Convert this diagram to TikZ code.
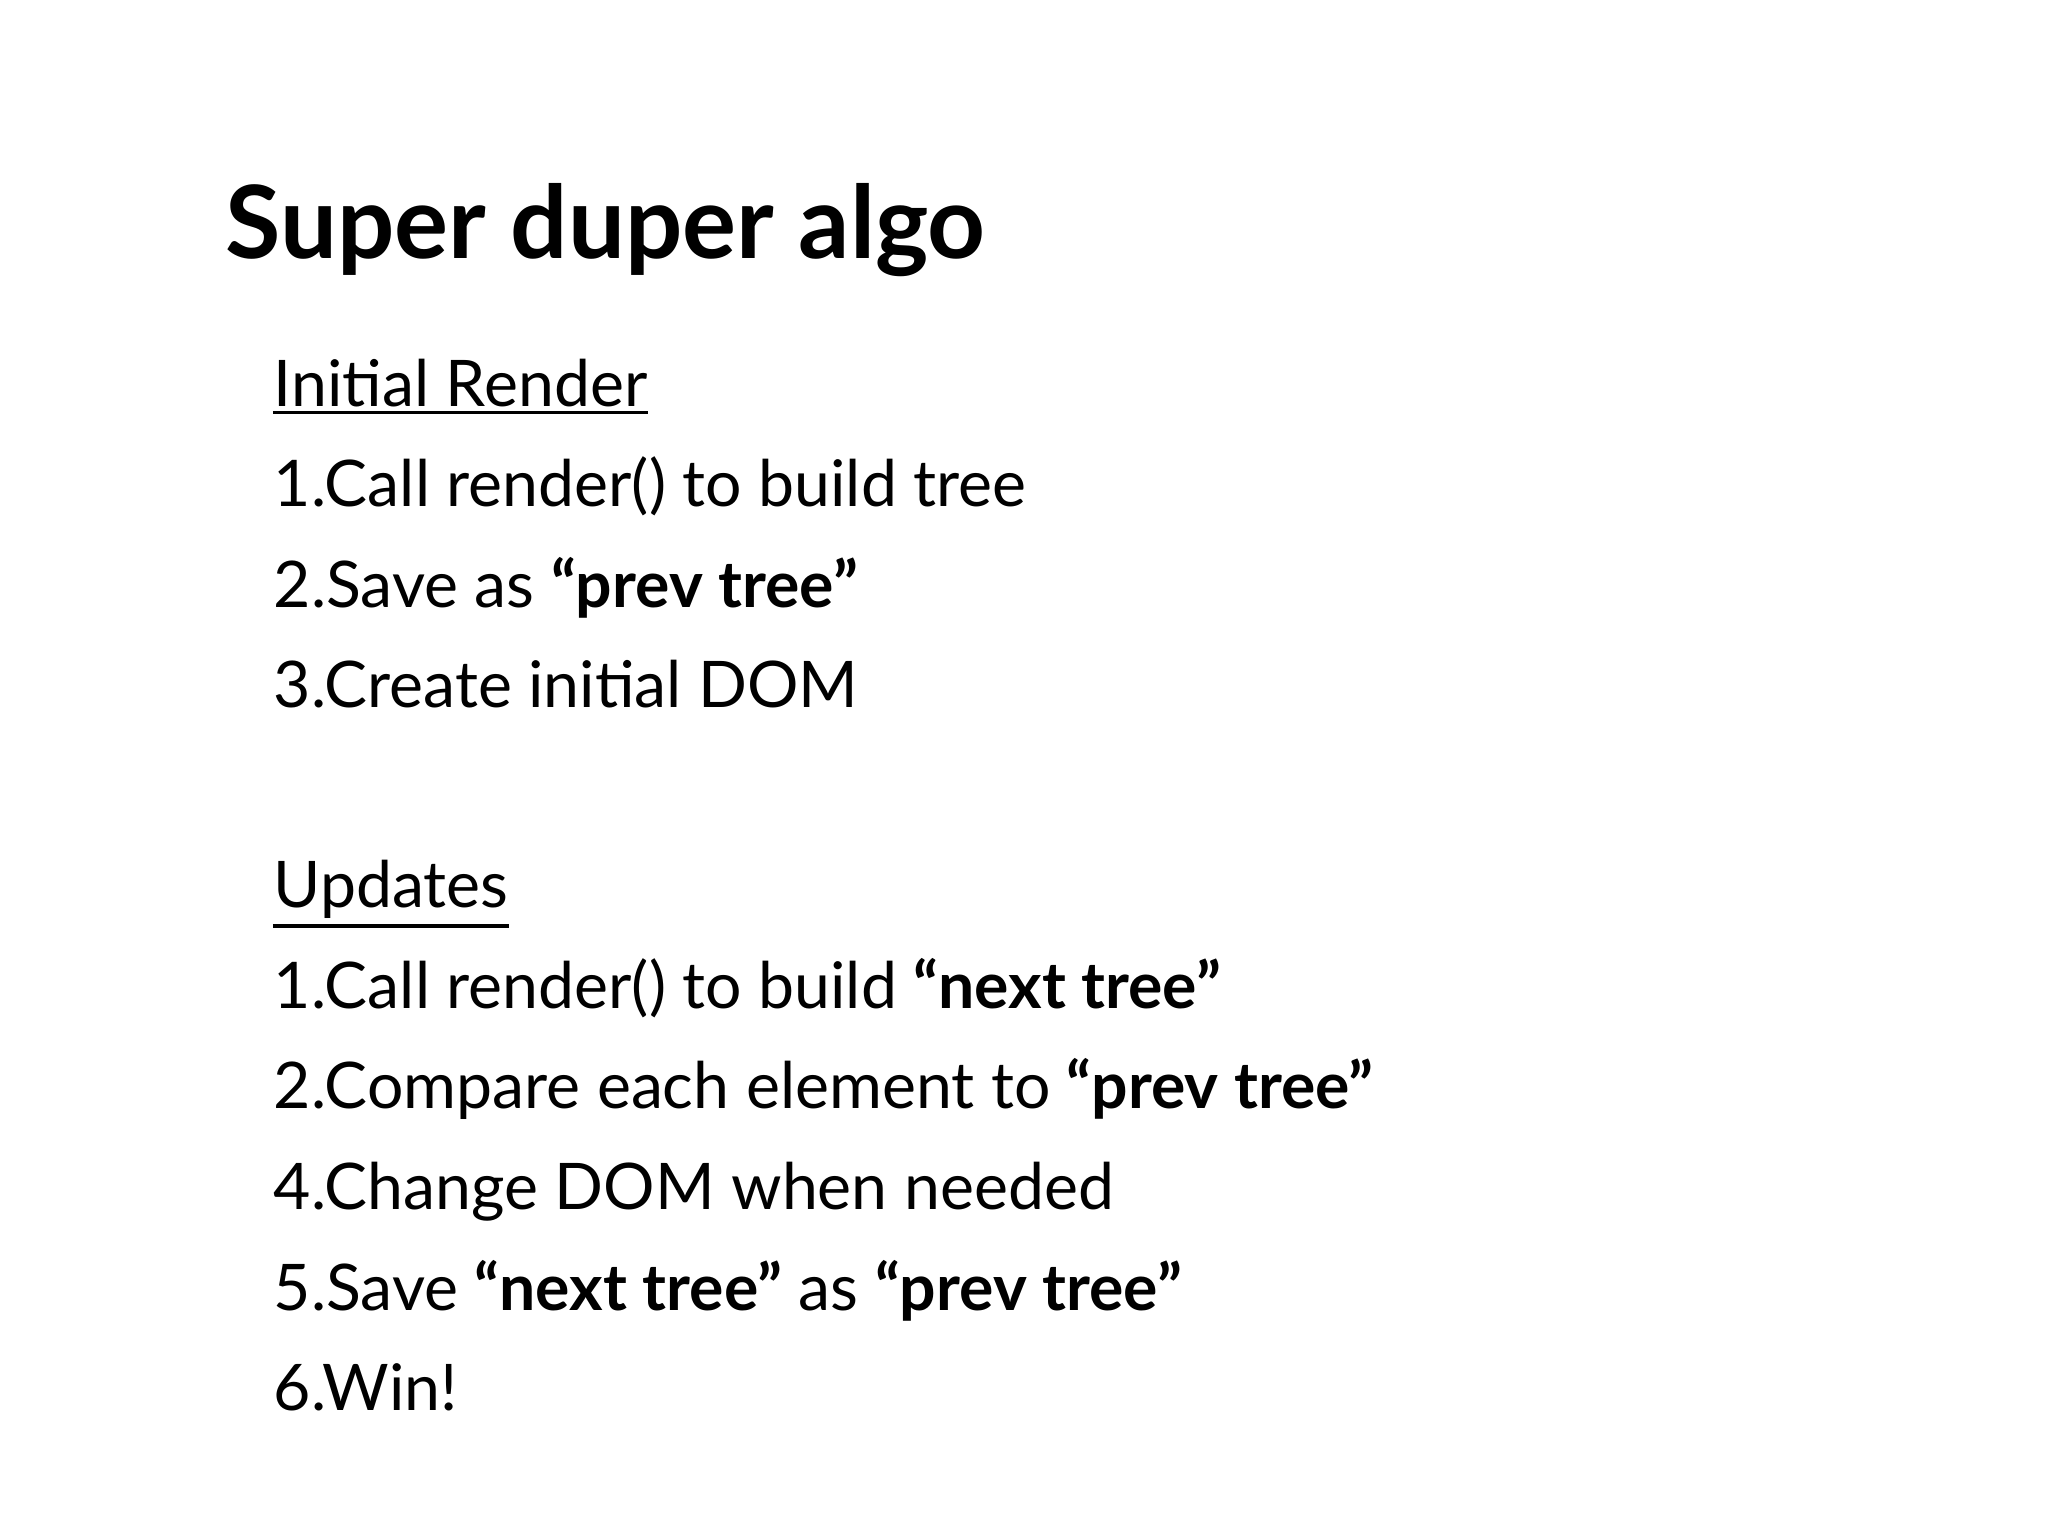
\documentclass[tikz,border=0pt]{standalone}
\usepackage{fontspec}
\setmainfont{Lato}
\begin{document}
\begin{tikzpicture}[x=0.01cm,y=-0.01cm,
  body/.style={anchor=base west,inner sep=0pt,font=\fontsize{14}{16}\selectfont},
  ttl/.style={anchor=base west,inner sep=0pt,font=\fontsize{22}{26}\selectfont\bfseries}]
\useasboundingbox (0,0) rectangle (1568,1176);
\node[ttl] (t) at (172,198) {Super duper algo};
\node[body] (h1) at (209,311) {Initial Render};
\draw[line width=0.7pt] (h1.south west)++(0,4) coordinate (u1) -- (u1 -| h1.south east);
\node[body] (a1) at (209,388) {1.Call render() to build tree};
\node[body] (a2) at (209,465) {2.Save as \textbf{“prev tree”}};
\node[body] (a3) at (209,542) {3.Create initial DOM};
\node[body] (h2) at (209,695) {Updates};
\draw[line width=0.7pt] (h2.base west)++(0,14) coordinate (u2) -- (u2 -| h2.south east);
\node[body] (b1) at (209,772) {1.Call render() to build \textbf{“next tree”}};
\node[body] (b2) at (209,849) {2.Compare each element to \textbf{“prev tree”}};
\node[body] (b3) at (209,926) {4.Change DOM when needed};
\node[body] (b4) at (209,1003) {5.Save \textbf{“next tree”} as \textbf{“prev tree”}};
\node[body] (b5) at (209,1080) {6.Win!};
\end{tikzpicture}
\end{document}
